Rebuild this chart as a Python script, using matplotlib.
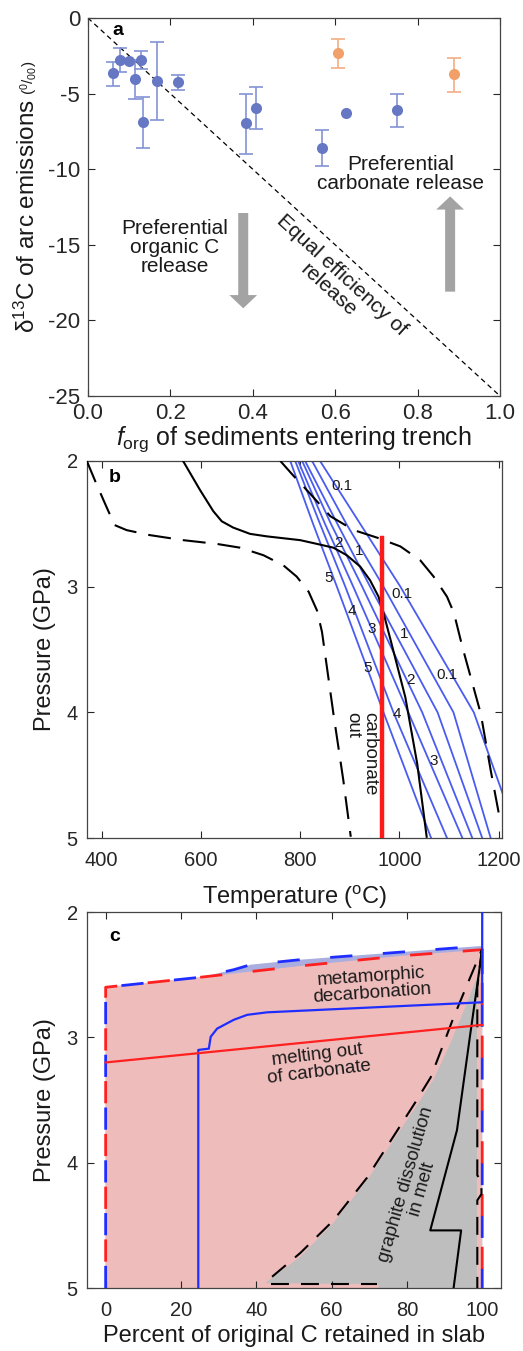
import matplotlib
matplotlib.use('Agg')
import matplotlib.pyplot as plt
import numpy as np

plt.rcParams['font.family'] = ['Liberation Sans', 'DejaVu Sans']
plt.rcParams['mathtext.fontset'] = 'custom'
plt.rcParams['mathtext.rm'] = 'Liberation Sans'
plt.rcParams['mathtext.it'] = 'Liberation Sans:italic'
plt.rcParams['mathtext.bf'] = 'Liberation Sans:bold'
plt.rcParams['axes.unicode_minus'] = False

# ---------------- Panel a data ----------------
forg_blue = [0.061, 0.078, 0.100, 0.114, 0.129, 0.134, 0.168, 0.218, 0.383, 0.409, 0.569, 0.626, 0.751]
d13c_blue = [-3.66, -2.78, -2.84, -4.06, -2.78, -6.90, -4.15, -4.23, -6.97, -5.93, -8.58, -6.30, -6.08]
upper_blue = [-2.90, -2.00, np.nan, -2.78, -2.20, -5.20, -1.57, -3.80, -5.03, -4.54, -7.40, np.nan, -5.03]
lower_blue = [-4.50, -3.55, np.nan, -5.38, -3.37, -8.58, -6.75, -4.76, -9.00, -7.34, -9.77, np.nan, -7.19]

forg_orange = [0.606, 0.888]
d13c_orange = [-2.34, -3.70]
upper_orange = [-1.37, -2.63]
lower_orange = [-3.33, -4.87]

# ---------------- Panel b data ----------------
T_solid = [564, 598, 625, 642, 665, 699, 733, 800, 834, 867, 894, 921, 941, 958, 968, 982, 1012, 1036, 1055]
P_solid = [2.00, 2.23, 2.40, 2.48, 2.53, 2.58, 2.60, 2.63, 2.66, 2.69, 2.75, 2.84, 2.95, 3.08, 3.21, 3.42, 3.88, 4.41, 4.99]
T_dash_left = [370, 389, 409, 426, 450, 497, 564, 632, 679, 726, 766, 793, 817, 834, 844, 867, 887, 902]
P_dash_left = [2.00, 2.18, 2.36, 2.51, 2.55, 2.59, 2.63, 2.66, 2.69, 2.75, 2.83, 2.92, 3.04, 3.19, 3.36, 4.01, 4.54, 4.99]
T_dash_right = [760, 787, 820, 861, 908, 955, 1002, 1042, 1069, 1096, 1110, 1127, 1164, 1184, 1204]
P_dash_right = [2.00, 2.12, 2.26, 2.44, 2.55, 2.61, 2.68, 2.79, 2.92, 3.08, 3.21, 3.48, 4.01, 4.46, 4.88]
T_carb_out = 965
P_carb_out = [2.61, 5.0]

P_iso = [2.0, 2.5, 3.0, 4.0, 5.0]
T_iso = [
    [780, 826, 874, 968, 1064],
    [790, 840, 891, 988, 1096],
    [796, 850, 907, 1018, 1127],
    [804, 862, 925, 1046, 1147],
    [810, 875, 941, 1077, 1167],
    [824, 893, 968, 1109, 1184],
    [840, 921, 1002, 1150, 1240],
]
iso_labels = ["0.1", "2", "1", "5", "0.1", "4", "3", "1", "5", "2", "0.1", "4", "3"]
iso_label_T = [885, 877, 918, 857, 1005, 904, 945, 1009, 935, 1022, 1096, 995, 1069]
iso_label_P = [2.20, 2.65, 2.72, 2.93, 3.06, 3.19, 3.34, 3.38, 3.65, 3.74, 3.70, 4.01, 4.39]

# ---------------- Panel c data ----------------
red_top_x = [0, 25.2, 51.7, 78.2, 100]
red_top_p = [2.60, 2.52, 2.43, 2.35, 2.30]
blue_top_x = [0, 25.2, 34.0, 38.5, 51.7, 78.2, 100]
blue_top_p = [2.60, 2.52, 2.46, 2.42, 2.38, 2.32, 2.27]
blue_line_x = [100, 100, 42.9, 37.6, 34.0, 29.6, 27.9, 27.4, 24.6, 24.6]
blue_line_p = [2.0, 2.72, 2.80, 2.82, 2.86, 2.93, 2.995, 3.09, 3.10, 5.0]
red_line_x = [0, 100]
red_line_p = [3.20, 2.90]
gray_x = [42.4, 51.7, 60.5, 69.4, 78.2, 82.7, 87.0, 91.5, 95.9, 98.6, 99.5, 98.6, 98.6, 72.5, 72.5]
gray_p = [4.96, 4.75, 4.48, 4.14, 3.74, 3.54, 3.34, 3.05, 2.73, 2.52, 2.36, 2.50, 5.0, 5.0, 4.97]
kdash_x = [44.2, 51.7, 60.5, 69.4, 77.5, 82.2, 86.3, 89.5, 92.4, 96.0, 99.9]
kdash_p = [4.91, 4.72, 4.46, 4.12, 3.74, 3.52, 3.32, 3.07, 2.84, 2.58, 2.30]
kdash_bot_x = [44.0, 72.0]
kdash_bot_p = [4.97, 4.97]
kdash_right_x = [99.9, 98.7, 98.7, 99.8, 99.8, 98.7, 98.7]
kdash_right_p = [2.30, 2.60, 4.10, 4.15, 4.25, 4.30, 5.0]
ksolid_x = [100, 96.8, 93.3, 86.2, 94.4, 92.4]
ksolid_p = [2.30, 2.98, 3.74, 4.54, 4.54, 5.0]

# ---------------- Figure ----------------
fig = plt.figure(figsize=(5.23, 13.51), dpi=100)
axa = fig.add_axes([0.168, 0.7069, 0.788, 0.2798])
axb = fig.add_axes([0.166, 0.3797, 0.794, 0.2791])
axc = fig.add_axes([0.166, 0.0466, 0.792, 0.2783])

spine_col = '#444444'
txt = '#1a1a1a'
for ax in (axa, axb, axc):
    ax.tick_params(direction='in', top=True, right=True, length=5, width=0.8,
                   colors='#262626')
    for s in ax.spines.values():
        s.set_color(spine_col)
        s.set_linewidth(0.9)
axa.tick_params(axis='x', labelsize=16, pad=5)
axa.tick_params(axis='y', labelsize=16, pad=5.5)
for ax in (axb, axc):
    ax.tick_params(axis='x', labelsize=14.5, pad=9)
    ax.tick_params(axis='y', labelsize=14.5, pad=6.5)

# ---- Panel a ----
bcol = '#6677c4'
becol = '#8494d6'
ocol = '#f2a06a'
oecol = '#f4ae84'
xb = np.array(forg_blue); yb = np.array(d13c_blue)
ub = np.array(upper_blue); lb = np.array(lower_blue)
m = ~np.isnan(ub)
axa.errorbar(xb[m], yb[m], yerr=[yb[m] - lb[m], ub[m] - yb[m]], fmt='none',
             ecolor=becol, elinewidth=1.2, capsize=5, capthick=1.2, zorder=2)
axa.plot(xb, yb, 'o', color=bcol, markersize=8, markeredgewidth=0, zorder=3)
xo = np.array(forg_orange); yo = np.array(d13c_orange)
axa.errorbar(xo, yo, yerr=[yo - np.array(lower_orange), np.array(upper_orange) - yo],
             fmt='none', ecolor=oecol, elinewidth=1.2, capsize=5, capthick=1.2, zorder=2)
axa.plot(xo, yo, 'o', color=ocol, markersize=8, markeredgewidth=0, zorder=3)
axa.plot([0, 1], [0, -25], color='black', lw=0.9, linestyle=(0, (4, 3)), zorder=1)
arrow_style = 'simple,head_width=2.0,head_length=0.95,tail_width=0.72'
axa.annotate('', xy=(0.377, -19.2), xytext=(0.377, -12.9),
             arrowprops=dict(arrowstyle=arrow_style, color='#a3a3a3', lw=0,
                             shrinkA=0, shrinkB=0, mutation_scale=10))
axa.annotate('', xy=(0.879, -11.8), xytext=(0.879, -18.1),
             arrowprops=dict(arrowstyle=arrow_style, color='#a3a3a3', lw=0,
                             shrinkA=0, shrinkB=0, mutation_scale=10))
axa.text(0.211, -15.2, 'Preferential\norganic C\nrelease', ha='center', va='center',
         fontsize=15, color=txt, linespacing=1.0)
axa.text(0.759, -10.3, 'Preferential\ncarbonate release', ha='center', va='center',
         fontsize=15, color=txt, linespacing=1.0)
axa.text(0.600, -17.5, 'Equal efficiency of\nrelease', ha='center', va='center',
         fontsize=15, color=txt, rotation=-42.5, rotation_mode='anchor', linespacing=1.0)
axa.text(0.073, 0.968, 'a', transform=axa.transAxes, fontsize=14, fontweight='bold',
         ha='center', va='center')
axa.set_xlim(0, 1)
axa.set_ylim(-25, 0)
axa.set_xticks([0, 0.2, 0.4, 0.6, 0.8, 1.0])
axa.set_xticklabels(['0.0', '0.2', '0.4', '0.6', '0.8', '1.0'])
axa.set_yticks([0, -5, -10, -15, -20, -25])
axa.set_xlabel(r'$f_{\mathrm{org}}$ of sediments entering trench', fontsize=18, labelpad=0, color=txt)
ylab_main = axa.text(-0.148, 0.167, r'δ$^{13}$C of arc emissions', transform=axa.transAxes,
                     rotation=90, ha='center', va='bottom', fontsize=17.5, color=txt)
fig.canvas.draw()
bb = ylab_main.get_window_extent(fig.canvas.get_renderer())
fig.text((bb.x0 + bb.x1) / 2 / fig.bbox.width + 0.004, (bb.y1 + 4) / fig.bbox.height,
         r'($^{0}$/$_{00}$)', rotation=90, ha='center', va='bottom', fontsize=11, color=txt)

# ---- Panel b ----
iso_col = '#4a5cf0'
for Ts in T_iso:
    axb.plot(Ts, P_iso, color=iso_col, lw=1.3, zorder=2)
for lab, t, p in zip(iso_labels, iso_label_T, iso_label_P):
    axb.text(t, p, lab, fontsize=11, ha='center', va='center', color=txt, zorder=4)
axb.plot(T_solid, P_solid, color='black', lw=1.5, zorder=3)
axb.plot(T_dash_left, P_dash_left, color='black', lw=1.5, linestyle=(0, (11, 5.8)), zorder=3)
axb.plot(T_dash_right, P_dash_right, color='black', lw=1.5, linestyle=(0, (11, 5.8)), zorder=3)
axb.plot([T_carb_out, T_carb_out], P_carb_out, color='#ff1a1a', lw=3.2, zorder=4)
axb.text(923, 4.0, 'carbonate\nout', rotation=-90, ha='center', va='top',
         multialignment='left', fontsize=13.5, color=txt, linespacing=1.0)
axb.text(0.067, 0.955, 'b', transform=axb.transAxes, fontsize=14, fontweight='bold',
         ha='center', va='center')
axb.set_xlim(370, 1207)
axb.set_ylim(5, 2)
axb.set_xticks([400, 600, 800, 1000, 1200])
axb.set_yticks([2, 3, 4, 5])
axb.set_xlabel(r'Temperature ($^{\mathrm{o}}$C)', fontsize=17, labelpad=10, color=txt)
axb.set_ylabel('Pressure (GPa)', fontsize=17, color=txt)
axb.yaxis.label.set_verticalalignment('center')
axb.yaxis.set_label_coords(-0.101, 0.5)

# ---- Panel c ----
pink = '#efbcbc'
lblue = '#a9aede'
grey = '#bebebe'
axc.fill(list(blue_top_x) + [100, 0], list(blue_top_p) + [5, 5], color=lblue, lw=0, zorder=1)
axc.fill(list(red_top_x) + [100, 0], list(red_top_p) + [5, 5], color=pink, lw=0, zorder=1.1)
axc.fill(gray_x, gray_p, color=grey, lw=0, zorder=1.2)
bx = [0, 0] + blue_top_x[1:] + [100]
bp = [5, 2.60] + blue_top_p[1:] + [5]
rx = [0, 0] + red_top_x[1:] + [100]
rp = [5, 2.60] + red_top_p[1:] + [5]
axc.plot(bx, bp, color='#1f2eff', lw=2, linestyle=(0, (8, 11)), zorder=3)
axc.plot(rx, rp, color='#ff2020', lw=2, linestyle=(9.5, (8, 11)), zorder=3)
axc.plot(blue_line_x, blue_line_p, color='#1f2eff', lw=1.6, zorder=4)
axc.plot(red_line_x, red_line_p, color='#ff2020', lw=1.6, zorder=4)
axc.plot(kdash_x, kdash_p, color='black', lw=1.5, linestyle=(0, (8.6, 5.8)), zorder=3)
axc.plot(kdash_bot_x, kdash_bot_p, color='black', lw=1.5, linestyle=(0, (8.6, 5.8)), zorder=3)
axc.plot(kdash_right_x, kdash_right_p, color='black', lw=1.5, linestyle=(0, (8.6, 5.8)), zorder=3)
axc.plot(ksolid_x, ksolid_p, color='black', lw=1.5, zorder=3)
axc.text(70.6, 2.58, 'metamorphic\ndecarbonation', ha='center', va='center', rotation=4,
         rotation_mode='anchor', fontsize=13.5, color=txt, linespacing=1.0, zorder=5)
axc.text(56.5, 3.21, 'melting out\nof carbonate', ha='center', va='center', rotation=7,
         rotation_mode='anchor', fontsize=13.5, color=txt, linespacing=1.0, zorder=5)
axc.text(81.8, 4.19, 'graphite dissolution\nin melt', ha='center', va='center', rotation=74,
         rotation_mode='anchor', fontsize=13.5, color=txt, linespacing=1.0, zorder=5)
axc.text(0.068, 0.934, 'c', transform=axc.transAxes, fontsize=14, fontweight='bold',
         ha='center', va='center')
axc.set_xlim(-5, 105)
axc.set_ylim(5, 2)
axc.set_xticks([0, 20, 40, 60, 80, 100])
axc.set_yticks([2, 3, 4, 5])
axc.set_xlabel('Percent of original C retained in slab', fontsize=17, labelpad=4, color=txt)
axc.set_ylabel('Pressure (GPa)', fontsize=17, color=txt)
axc.yaxis.label.set_verticalalignment('center')
axc.yaxis.set_label_coords(-0.101, 0.5)

fig.savefig('out.png', dpi=100)
